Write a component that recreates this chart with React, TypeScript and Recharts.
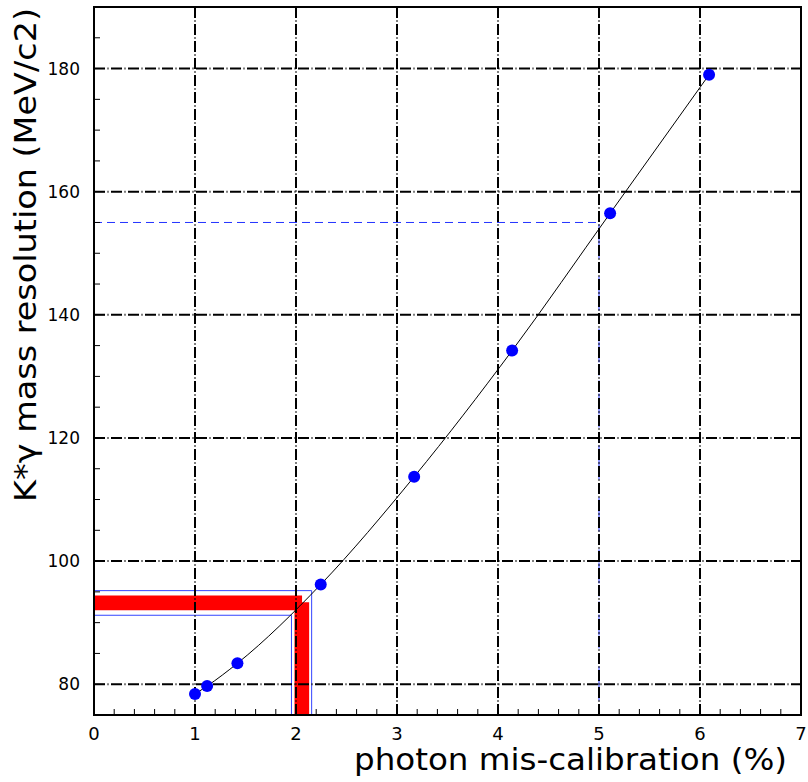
import React from 'react';
import { LineChart, Line, XAxis, YAxis, ReferenceLine, ReferenceArea } from 'recharts';

// Measured K*gamma mass resolution versus photon mis-calibration
const miscalibration = [1.0, 1.12, 1.42, 2.245, 3.17, 4.14, 5.11, 6.09];
const resolution = [78.4, 79.7, 83.4, 96.2, 113.7, 134.2, 156.5, 179.0];

// Axis ranges and labelled ticks
const X_DOMAIN: [number, number] = [0, 7];
const Y_DOMAIN: [number, number] = [75, 190];
const xMajor = [0, 1, 2, 3, 4, 5, 6, 7];
const yMajor = [80, 100, 120, 140, 160, 180];
const xGridLines = [1, 2, 3, 4, 5, 6];

// Minor tick marks: 0.2 % steps on x, 5 MeV/c2 steps on y
const xTicks = Array.from({ length: 36 }, (_, i) => Math.round(i * 2) / 10);
const yTicks = Array.from({ length: 24 }, (_, i) => 75 + i * 5);

// Resolution band around the nominal working point (~2 % mis-calibration)
const bandOuter = { x: 2.155, y: 95.2 };
const bandInner = { x: 1.955, y: 91.2 };
const bandRedHorizontal = { x: 2.06, y1: 92.0, y2: 94.4 };
const bandRedVertical = { x1: 1.985, x2: 2.13, y: 93.3 };

// Reference point at 5 % mis-calibration
const refPoint = { x: 5, y: 155 };

const data = miscalibration.map((x, i) => ({ x, y: resolution[i] }));

const FONT = '"DejaVu Sans", sans-serif';
const GRID_DASH = '11 2.5 1 2.5';

const XTick = (props: any) => {
  const { x, y, payload } = props;
  const v = payload.value as number;
  const major = xMajor.includes(v);
  return (
    <g>
      <line x1={x} x2={x} y1={y} y2={y - (major ? 11 : 6)} stroke="#000" strokeWidth={1} />
      {major && (
        <text x={x} y={y + 25} textAnchor="middle" fontFamily={FONT} fontSize={18} fill="#000">
          {v}
        </text>
      )}
    </g>
  );
};

const YTick = (props: any) => {
  const { x, y, payload } = props;
  const v = payload.value as number;
  const major = yMajor.includes(v);
  return (
    <g>
      <line x1={x} x2={x + (major ? 11 : 6)} y1={y} y2={y} stroke="#000" strokeWidth={1} />
      {major && (
        <text x={x - 14} y={y + 6} textAnchor="end" fontFamily={FONT} fontSize={17} fill="#000">
          {v}
        </text>
      )}
    </g>
  );
};

const XTitle = (props: any) => {
  const vb = props.viewBox;
  const right = vb.x + vb.width - 14;
  return (
    <text
      x={right}
      y={770}
      textAnchor="end"
      fontFamily={FONT}
      fontSize={30}
      fill="#000"
      textLength={433}
      lengthAdjust="spacingAndGlyphs"
    >
      photon mis-calibration (%)
    </text>
  );
};

const YTitle = () => (
  <text
    x={36}
    y={255}
    textAnchor="middle"
    transform="rotate(-90, 36, 255)"
    fontFamily={FONT}
    fontSize={30}
    fill="#000"
    textLength={494}
    lengthAdjust="spacingAndGlyphs"
  >
    K*γ mass resolution (MeV/c2)
  </text>
);

export default function App() {
  return (
    <div style={{ position: 'absolute', left: 0, top: 0, background: '#fff' }}>
      <LineChart
        width={808}
        height={782}
        data={data}
        margin={{ top: 7, right: 7, bottom: 27, left: 34 }}
      >
        <XAxis
          dataKey="x"
          type="number"
          domain={X_DOMAIN}
          ticks={xTicks}
          interval={0}
          allowDataOverflow
          height={40}
          axisLine={false}
          tickLine={false}
          tickSize={0}
          tickMargin={0}
          tick={<XTick />}
          label={{ content: <XTitle /> }}
        />
        <YAxis
          type="number"
          domain={Y_DOMAIN}
          ticks={yTicks}
          interval={0}
          allowDataOverflow
          width={60}
          axisLine={false}
          tickLine={false}
          tickSize={0}
          tickMargin={0}
          tick={<YTick />}
          label={{ content: <YTitle /> }}
        />

        {/* red band around the working point */}
        <ReferenceArea
          x1={X_DOMAIN[0]}
          x2={bandRedHorizontal.x}
          y1={bandRedHorizontal.y1}
          y2={bandRedHorizontal.y2}
          fill="#ff0000"
          fillOpacity={1}
          stroke="none"
        />
        <ReferenceArea
          x1={bandRedVertical.x1}
          x2={bandRedVertical.x2}
          y1={Y_DOMAIN[0]}
          y2={bandRedVertical.y}
          fill="#ff0000"
          fillOpacity={1}
          stroke="none"
        />
        {/* blue band edges */}
        <ReferenceArea
          x1={X_DOMAIN[0]}
          x2={bandOuter.x}
          y1={Y_DOMAIN[0]}
          y2={bandOuter.y}
          fill="none"
          stroke="#3344ff"
          strokeWidth={1}
        />
        <ReferenceArea
          x1={X_DOMAIN[0]}
          x2={bandInner.x}
          y1={Y_DOMAIN[0]}
          y2={bandInner.y}
          fill="none"
          stroke="#3344ff"
          strokeWidth={1}
        />
        {/* dashed guide to the 5 % point */}
        <ReferenceArea
          x1={X_DOMAIN[0]}
          x2={refPoint.x}
          y1={Y_DOMAIN[0]}
          y2={refPoint.y}
          fill="none"
          stroke="#2233ff"
          strokeWidth={1}
          strokeDasharray="8 5"
        />

        {/* dash-dotted grid */}
        {xGridLines.map((v) => (
          <ReferenceLine key={`gx${v}`} x={v} stroke="#000" strokeWidth={2} strokeDasharray={GRID_DASH} />
        ))}
        {yMajor.map((v) => (
          <ReferenceLine key={`gy${v}`} y={v} stroke="#000" strokeWidth={2} strokeDasharray={GRID_DASH} />
        ))}

        {/* frame */}
        <ReferenceArea
          x1={X_DOMAIN[0]}
          x2={X_DOMAIN[1]}
          y1={Y_DOMAIN[0]}
          y2={Y_DOMAIN[1]}
          fill="none"
          stroke="#000"
          strokeWidth={2}
        />

        <Line
          dataKey="y"
          type="monotone"
          stroke="#000"
          strokeWidth={1}
          dot={{ r: 6, fill: '#0000ff', stroke: '#0000ff', strokeWidth: 0 }}
          activeDot={false}
          isAnimationActive={false}
        />
      </LineChart>
    </div>
  );
}
